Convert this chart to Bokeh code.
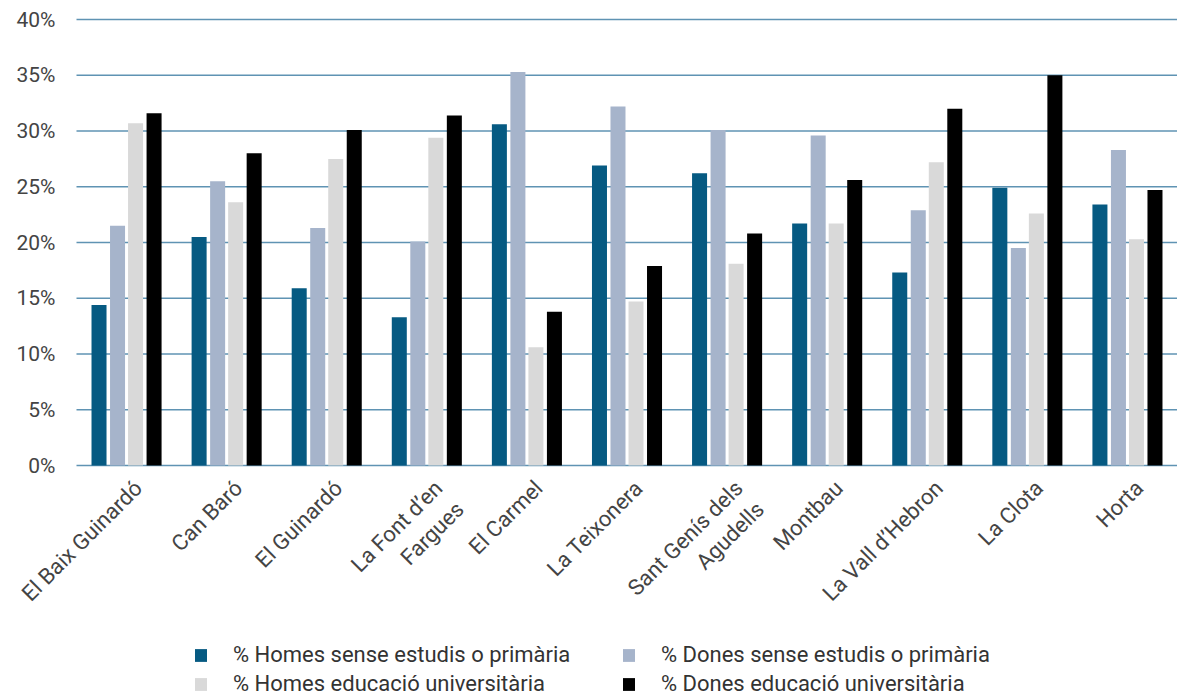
from bokeh.plotting import figure
from bokeh.models import Range1d, ColumnDataSource, Legend, LegendItem
from bokeh.core.properties import value
from bokeh.transform import dodge
from bokeh.embed import file_html
from bokeh.resources import INLINE
import math

barris = ["El Baix Guinardó", "Can Baró", "El Guinardó", "La Font d’en\nFargues",
          "El Carmel", "La Teixonera", "Sant Genís dels\nAgudells", "Montbau",
          "La Vall d’Hebron", "La Clota", "Horta"]
homes_sense = [14.4, 20.5, 15.9, 13.3, 30.6, 26.9, 26.2, 21.7, 17.3, 24.9, 23.4]
dones_sense = [21.5, 25.5, 21.3, 20.1, 35.3, 32.2, 30.1, 29.6, 22.9, 19.5, 28.3]
homes_univ = [30.7, 23.6, 27.5, 29.4, 10.6, 14.7, 18.1, 21.7, 27.2, 22.6, 20.3]
dones_univ = [31.6, 28.0, 30.1, 31.4, 13.8, 17.9, 20.8, 25.6, 32.0, 35.0, 24.7]
series_labels = ["% Homes sense estudis o primària", "% Dones sense estudis o primària",
                 "% Homes educació universitària", "% Dones educació universitària"]
y_ticks = [0, 5, 10, 15, 20, 25, 30, 35, 40]
y_tick_labels = [f"{t}%" for t in y_ticks]

colors = ["#065A82", "#A6B4CB", "#D9D9D9", "#000000"]
offsets = [-0.275, -0.09, 0.09, 0.275]
FONT = "Roboto"
W, H = 1177, 696

# geometry of the plotting area inside the canvas (pixels)
LEFT, TOP, BOTTOM = 76, 19, 465
n = len(barris)
px_x = (W - LEFT) / n
px_y = (BOTTOM - TOP) / 40
x_range = Range1d(-0.5 - LEFT / px_x, n - 0.5)
y_range = Range1d(-(H - BOTTOM) / px_y, 40 + TOP / px_y)

idx = list(range(n))
src = ColumnDataSource(dict(idx=idx, x=barris, hs=homes_sense, ds=dones_sense,
                            hu=homes_univ, du=dones_univ, base=[0] * n))

p = figure(x_range=x_range, y_range=y_range, frame_width=W, frame_height=H,
           output_backend="svg", toolbar_location=None,
           x_axis_location=None, y_axis_location=None,
           min_border=0, min_border_left=0, min_border_right=0,
           min_border_top=0, min_border_bottom=0)
p.outline_line_color = None
p.xgrid.visible = False
p.ygrid.visible = False

# horizontal grid lines across the category area
p.segment(x0=[-0.5] * len(y_ticks), x1=[n - 0.5] * len(y_ticks), y0=y_ticks, y1=y_ticks,
          line_color="#5F93B3", line_width=1.5)

renderers = []
for col, c, off in zip(["hs", "ds", "hu", "du"], colors, offsets):
    r = p.vbar(x=dodge("idx", off), top=col, bottom=0, width=0.15,
               source=src, fill_color=c, line_color=None)
    renderers.append(r)

# y tick labels
p.text(x=[-0.5] * len(y_ticks), y=y_ticks, text=y_tick_labels, x_offset=-21,
       text_align="right", text_baseline="middle", text_font=value(FONT),
       text_font_size="21px", text_color="#444444")

# category labels, rotated 45°
p.text(x="idx", y="base", text="x", source=src, angle=math.pi / 4,
       text_align="right", text_baseline="top", x_offset=3, y_offset=10,
       text_font=value(FONT), text_font_size="22px", text_color="#444444",
       text_line_height=1.2)

items = [LegendItem(label=l, renderers=[r]) for l, r in zip(series_labels, renderers)]
legend = Legend(items=items, location=(193, 0), orientation="horizontal", ncols=2,
                label_text_font=FONT, label_text_font_size="22px",
                label_text_color="#333333", glyph_width=15, glyph_height=16,
                spacing=4, border_line_color=None, background_fill_alpha=0,
                margin=0, padding=0, label_standoff=25, label_width=384)
p.add_layout(legend)

open("out.html", "w").write(file_html(p, INLINE))
